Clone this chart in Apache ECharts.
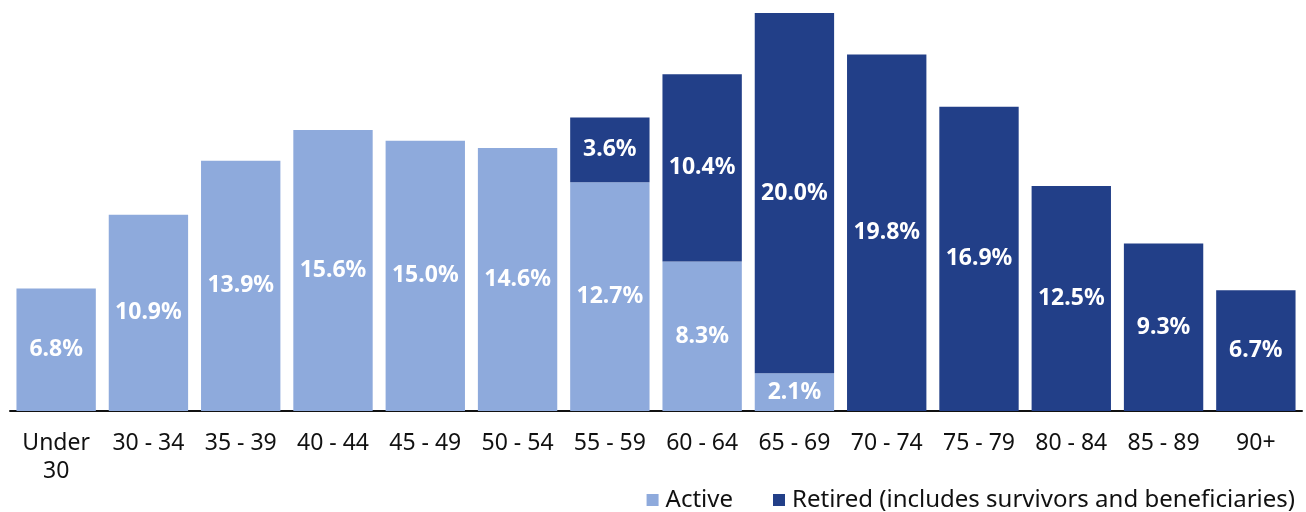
<!DOCTYPE html>
<html><head><meta charset="utf-8">
<script src="https://cdn.jsdelivr.net/npm/echarts@6/dist/echarts.min.js"></script>
<style>html,body{margin:0;padding:0;background:#fff}#c{width:1306px;height:512px}</style>
</head><body><div id="c"></div>
<script>
const categories = ['Under\n30','30 - 34','35 - 39','40 - 44','45 - 49','50 - 54','55 - 59','60 - 64','65 - 69','70 - 74','75 - 79','80 - 84','85 - 89','90+'];
const activeValues = [6.8,10.9,13.9,15.6,15.0,14.6,12.7,8.3,2.1,null,null,null,null,null];
const retiredValues = [null,null,null,null,null,null,3.6,10.4,20.0,19.8,16.9,12.5,9.3,6.7];
const seriesNames = ['Active','Retired (includes survivors and beneficiaries)'];
const colors = ['#8eaadc','#223f88'];

const chart = echarts.init(document.getElementById('c'), null, {renderer:'canvas'});
const lbl = {show:true, position:'inside', color:'#fff', fontWeight:'bold', fontSize:23, fontFamily:'Noto Sans',
  formatter: p => p.value == null ? '' : Number(p.value).toFixed(1) + '%'};
chart.setOption({
  animation:false,
  grid:{left:10, right:4, top:13, bottom:101, containLabel:false},
  legend:{right:6, top:483, itemWidth:12, itemHeight:12, itemGap:40, icon:'rect',
    textStyle:{fontSize:24, color:'#111', fontFamily:'Noto Sans', padding:[0,0,0,2]}, data:seriesNames},
  xAxis:{type:'category', data:categories,
    axisLine:{lineStyle:{color:'#111', width:2}}, axisTick:{show:false},
    axisLabel:{interval:0, color:'#111', fontSize:23, fontFamily:'Noto Sans', margin:18, lineHeight:28}},
  yAxis:{type:'value', min:0, max:22.1, show:false, splitLine:{show:false}},
  series:[
    {name:seriesNames[0], type:'bar', stack:'t', data:activeValues, barCategoryGap:'14%', itemStyle:{color:colors[0]}, label:lbl},
    {name:seriesNames[1], type:'bar', stack:'t', data:retiredValues, barCategoryGap:'14%', itemStyle:{color:colors[1]}, label:lbl}
  ]
});
</script></body></html>
